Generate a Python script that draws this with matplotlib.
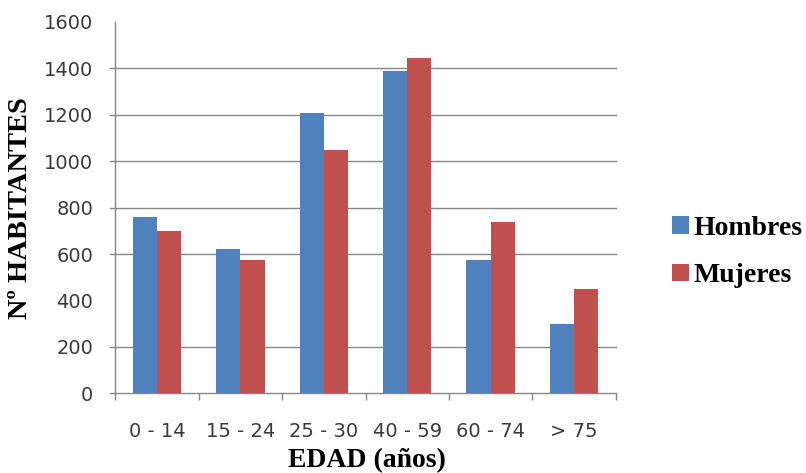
import matplotlib.pyplot as plt
import numpy as np
from matplotlib.transforms import blended_transform_factory

# datos de población por grupo de edad
grupos = ['0 - 14', '15 - 24', '25 - 30', '40 - 59', '60 - 74', '> 75']
hombres = [760, 620, 1210, 1390, 575, 300]
mujeres = [700, 575, 1050, 1445, 740, 450]
y_ticks = [0, 200, 400, 600, 800, 1000, 1200, 1400, 1600]
lineas_guia = [200, 600, 800, 1000, 1200, 1400]

azul = '#4F81BD'
rojo = '#C0504D'
gris = '#868686'

fig = plt.figure(figsize=(8.06, 4.73), dpi=100)
ax = fig.add_axes([0.143, 0.1685, 0.621, 0.785])

x = np.arange(len(grupos))
ancho = 0.29
ax.bar(x - ancho / 2, hombres, ancho, color=azul, label='Hombres', zorder=3)
ax.bar(x + ancho / 2, mujeres, ancho, color=rojo, label='Mujeres', zorder=3)

ax.set_xlim(-0.5, len(grupos) - 0.5)
ax.set_ylim(0, 1600)

# líneas de división horizontales (con su marca a la izquierda del eje)
trans = blended_transform_factory(ax.transAxes, ax.transData)
for v in lineas_guia + [0]:
    ax.plot([-0.011, 1], [v, v], color=gris, lw=1, transform=trans,
            clip_on=False, zorder=1)

for s in ['top', 'right', 'bottom']:
    ax.spines[s].set_visible(False)
ax.spines['left'].set_color(gris)
ax.spines['left'].set_linewidth(1)

ax.set_yticks(y_ticks)
ax.set_yticklabels([str(v) for v in y_ticks])
ax.tick_params(axis='y', length=0, pad=16, labelsize=14, labelcolor='#3a3a3a')

ax.set_xticks(x)
ax.set_xticklabels(grupos)
ax.set_xticks(np.arange(-0.5, len(grupos)), minor=True)
ax.tick_params(axis='x', which='major', length=0, pad=21, labelsize=14,
               labelcolor='#3a3a3a')
ax.tick_params(axis='x', which='minor', length=5, color=gris, width=1)

fig.text(0.026, 0.561, 'Nº HABITANTES', rotation=90, ha='center', va='center',
         family='Liberation Serif', weight='bold', fontsize=20.5)
fig.text(0.455, 0.027, 'EDAD (años)', ha='center', va='center',
         family='Liberation Serif', weight='bold', fontsize=20)

ax.legend(loc='center left', bbox_to_anchor=(0.803, 0.467),
          bbox_transform=fig.transFigure, frameon=False,
          prop={'family': 'Liberation Serif', 'weight': 'bold', 'size': 20},
          handlelength=0.6, handleheight=0.6, handletextpad=0.15,
          labelspacing=0.8)

fig.savefig('out.png', dpi=100)
